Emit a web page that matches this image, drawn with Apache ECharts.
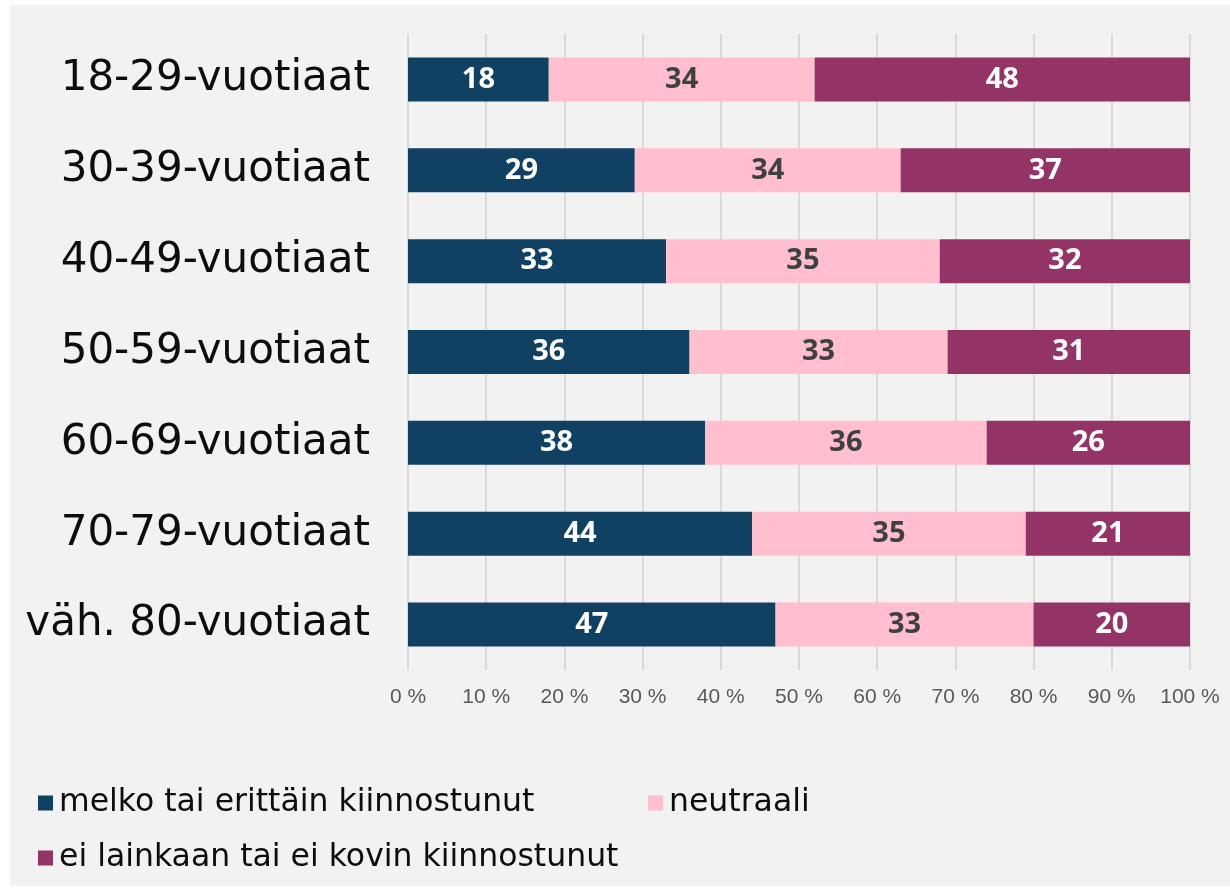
<!DOCTYPE html>
<html><head><meta charset="utf-8">
<script src="https://cdn.jsdelivr.net/npm/echarts@6/dist/echarts.min.js"></script>
<style>html,body{margin:0;padding:0;background:#fff}#c{width:1230px;height:891px}</style>
</head><body><div id="c"></div>
<script>
const categories = ['18-29-vuotiaat','30-39-vuotiaat','40-49-vuotiaat','50-59-vuotiaat','60-69-vuotiaat','70-79-vuotiaat','väh. 80-vuotiaat'];
const seriesNames = ['melko tai erittäin kiinnostunut','neutraali','ei lainkaan tai ei kovin kiinnostunut'];
const interested = [18,29,33,36,38,44,47];
const neutral = [34,34,35,33,36,35,33];
const notInterested = [48,37,32,31,26,21,20];
const colors = ['#114162','#ffbfcf','#933366'];
const labelColors = ['#ffffff','#404040','#ffffff'];
const values = [interested, neutral, notInterested];

const chart = echarts.init(document.getElementById('c'), null, {renderer:'canvas'});
const legendPos = [{left:33, top:782},{left:643, top:782},{left:33, top:837}];
chart.setOption({
  animation:false,
  backgroundColor:'#ffffff',
  graphic:[{type:'rect', z:-10, shape:{x:10,y:5,width:1220,height:881}, style:{fill:'#f2f2f2'}}],
  grid:{left:408, right:40, top:34, bottom:221},
  xAxis:{type:'value', min:0, max:100, interval:10,
    axisLine:{show:false}, axisTick:{show:false},
    splitLine:{show:true, lineStyle:{color:'#d9d9d9', width:2}},
    axisLabel:{formatter:'{value} %', color:'#595959', fontSize:21, fontFamily:'Liberation Sans', margin:17}},
  yAxis:{type:'category', inverse:true, data:categories,
    axisLine:{show:false}, axisTick:{show:false},
    axisLabel:{color:'#0d0d0d', fontSize:42, fontFamily:'DejaVu Sans', margin:38}},
  legend: seriesNames.map((n,i)=>({data:[n], left:legendPos[i].left, top:legendPos[i].top,
    itemWidth:15, itemHeight:15, itemGap:10, icon:'rect',
    textStyle:{fontSize:31.5, fontFamily:'DejaVu Sans', color:'#0d0d0d', lineHeight:30, padding:[0,0,0,1]}})),
  series: seriesNames.map((n,i)=>({
    name:n, type:'bar', stack:'total', barWidth:44, data:values[i],
    itemStyle:{color:colors[i]},
    label:{show:true, position:'inside', formatter:'{c}', color:labelColors[i],
      fontSize:29, fontWeight:'bold', fontFamily:'Noto Sans'}
  }))
});
</script></body></html>
